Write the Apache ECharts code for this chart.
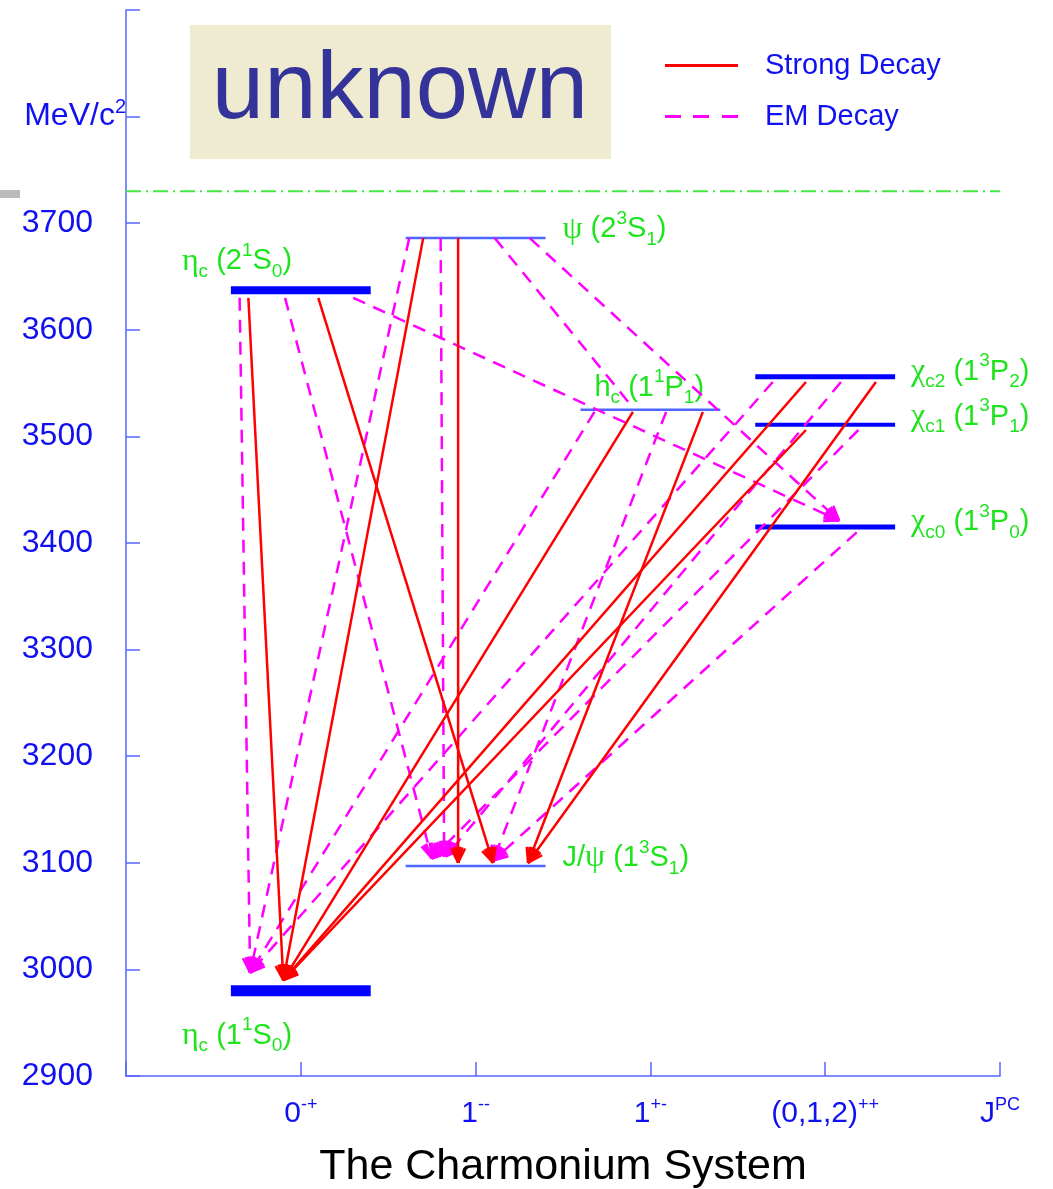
<!DOCTYPE html>
<html>
<head>
<meta charset="utf-8">
<title>The Charmonium System</title>
<script src="https://cdn.jsdelivr.net/npm/echarts@6/dist/echarts.min.js"></script>
<style>
  html, body { margin: 0; padding: 0; background: #ffffff; }
  #chart { width: 1053px; height: 1189px; }
</style>
</head>
<body>
<div id="chart"></div>
<script>
// ---- data -------------------------------------------------------------
// charmonium states: J^PC column (1..4) and mass in MeV/c^2
const levelKeys   = ['etac1S', 'jpsi', 'etac2S', 'psi2S', 'hc', 'chic0', 'chic1', 'chic2'];
const levelColumn = [1, 2, 1, 2, 3, 4, 4, 4];
const levelMass   = [2980, 3097, 3637, 3686, 3525, 3415, 3511, 3556];

// open-charm threshold, MeV/c^2
const thresholdMass = 3730;

// J^PC column labels (base, superscript)
const jpcBase = ['0', '1', '1', '(0,1,2)', 'J'];
const jpcSup  = ['-+', '--', '+-', '++', 'PC'];

// transitions: [column from, mass from, column to, mass to, arrowhead]
const strongDecays = [
  [0.70, 3630, 0.90, 2990, 1],
  [1.10, 3630, 2.10, 3100, 1],
  [1.70, 3686, 0.90, 2990, 1],
  [1.90, 3686, 1.90, 3100, 1],
  [2.90, 3523, 0.90, 2990, 1],
  [3.30, 3523, 2.30, 3100, 1],
  [3.89, 3551, 0.90, 2990, 1],
  [4.29, 3551, 2.30, 3100, 1],
  [3.89, 3506, 0.90, 2990, 1]
];
const emDecays = [
  [0.65, 3630, 0.71, 2997, 1],
  [0.91, 3630, 1.75, 3104, 1],
  [1.30, 3630, 4.08, 3421, 1],
  [1.62, 3686, 0.71, 2997, 1],
  [1.80, 3686, 1.82, 3106, 1],
  [2.11, 3686, 2.90, 3527, 0],
  [2.31, 3686, 4.08, 3421, 1],
  [2.68, 3523, 0.71, 2997, 1],
  [3.09, 3523, 2.10, 3102, 1],
  [3.70, 3551, 0.71, 2997, 1],
  [4.09, 3551, 1.83, 3106, 1],
  [4.19, 3506, 1.75, 3104, 1],
  [4.18, 3410, 2.10, 3102, 1]
];

// ---- styling ----------------------------------------------------------
const GREEN = '#1ee41e';
const AXIS_BLUE = '#5566ff';
const TEXT_BLUE = '#1010f0';

const levelStyle = {
  etac1S: { width: 11, color: '#0000ff' },
  jpsi:   { width: 2.5, color: '#4d66ff' },
  etac2S: { width: 8, color: '#0000ff' },
  psi2S:  { width: 2.5, color: '#4d66ff' },
  hc:     { width: 2.5, color: '#4d66ff' },
  chic0:  { width: 5, color: '#0000ff' },
  chic1:  { width: 4, color: '#0000ff' },
  chic2:  { width: 5, color: '#0000ff' }
};

// state names as rich text, and where they sit relative to the level bar
const levelName = {
  etac1S: '{g|η}{s|c}{b| (1}{p|1}{b|S}{s|0}{b|)}',
  jpsi:   '{b|J/}{g|ψ}{b| (1}{p|3}{b|S}{s|1}{b|)}',
  etac2S: '{g|η}{s|c}{b| (2}{p|1}{b|S}{s|0}{b|)}',
  psi2S:  '{g|ψ}{b| (2}{p|3}{b|S}{s|1}{b|)}',
  hc:     '{b|h}{s|c}{b| (1}{p|1}{b|P}{s|1}{b|)}',
  chic0:  '{g|χ}{s|c0}{b| (1}{p|3}{b|P}{s|0}{b|)}',
  chic1:  '{g|χ}{s|c1}{b| (1}{p|3}{b|P}{s|1}{b|)}',
  chic2:  '{g|χ}{s|c2}{b| (1}{p|3}{b|P}{s|2}{b|)}'
};
const labelPlace = {
  etac1S: { side: 'left',  dx: -49, dy: 45 },
  jpsi:   { side: 'right', dx: 17,  dy: -8 },
  etac2S: { side: 'left',  dx: -49, dy: -29 },
  psi2S:  { side: 'right', dx: 17,  dy: -9 },
  hc:     { side: 'left',  dx: 14,  dy: -22 },
  chic0:  { side: 'right', dx: 16,  dy: -5 },
  chic1:  { side: 'right', dx: 16,  dy: -8 },
  chic2:  { side: 'right', dx: 16,  dy: -5 }
};
const nameRich = {
  b: { fontFamily: 'Liberation Sans', fontSize: 29, fill: GREEN, lineHeight: 40 },
  g: { fontFamily: 'Liberation Serif', fontSize: 32, fill: GREEN, lineHeight: 40 },
  s: { fontFamily: 'Liberation Sans', fontSize: 19, fill: GREEN, lineHeight: 20, verticalAlign: 'bottom' },
  p: { fontFamily: 'Liberation Sans', fontSize: 19, fill: GREEN, lineHeight: 22, verticalAlign: 'top' }
};

const HALF_WIDTH = 0.4; // half length of a level bar, in column units

// ---- renderers --------------------------------------------------------
function renderLevel(params, api) {
  const key = levelKeys[api.value(2)];
  const st = levelStyle[key];
  const a = api.coord([api.value(0) - HALF_WIDTH, api.value(1)]);
  const b = api.coord([api.value(0) + HALF_WIDTH, api.value(1)]);
  const pl = labelPlace[key];
  const anchorX = pl.side === 'left' ? a[0] : b[0];
  return {
    type: 'group',
    children: [
      { type: 'line', shape: { x1: a[0], y1: a[1], x2: b[0], y2: b[1] },
        style: { stroke: st.color, lineWidth: st.width } },
      { type: 'text', x: anchorX + pl.dx, y: a[1] + pl.dy,
        style: { text: levelName[key], rich: nameRich, fill: GREEN, align: 'left', verticalAlign: 'middle' } }
    ]
  };
}

function decayRenderer(color, dash) {
  return function (params, api) {
    const a = api.coord([api.value(0), api.value(1)]);
    const b = api.coord([api.value(2), api.value(3)]);
    const kids = [{
      type: 'line',
      shape: { x1: a[0], y1: a[1], x2: b[0], y2: b[1] },
      style: { stroke: color, lineWidth: 2.5, lineDash: dash }
    }];
    if (api.value(4)) {
      const dx = b[0] - a[0], dy = b[1] - a[1];
      const len = Math.hypot(dx, dy);
      const ux = dx / len, uy = dy / len;
      const L = 16;
      [-26, -16, -7, 7, 16, 26].forEach(function (deg) {
        const r = deg * Math.PI / 180;
        const vx = -(ux * Math.cos(r) - uy * Math.sin(r));
        const vy = -(ux * Math.sin(r) + uy * Math.cos(r));
        kids.push({
          type: 'line',
          shape: { x1: b[0], y1: b[1], x2: b[0] + vx * L, y2: b[1] + vy * L },
          style: { stroke: color, lineWidth: 2.4 }
        });
      });
    }
    return { type: 'group', children: kids };
  };
}

const levelData = levelKeys.map(function (k, i) { return [levelColumn[i], levelMass[i], i]; });

// ---- chart ------------------------------------------------------------
const chart = echarts.init(document.getElementById('chart'), null, { renderer: 'canvas' });

chart.setOption({
  animation: false,
  backgroundColor: '#ffffff',
  grid: { left: 126, right: 53, top: 10, bottom: 113, containLabel: false, outerBoundsMode: 'none' },
  legend: {
    orient: 'vertical',
    left: 660, top: 46,
    itemGap: 22,
    itemWidth: 73, itemHeight: 3,
    textStyle: { fontFamily: 'Liberation Sans', fontSize: 29, color: TEXT_BLUE, padding: [0, 0, 0, 22] },
    data: [
      { name: 'Strong Decay', icon: 'path://M0,0h73v3h-73z' },
      { name: 'EM Decay', icon: 'path://M0,0h16v3h-16z M28,0h16v3h-16z M57,0h16v3h-16z' }
    ]
  },
  xAxis: {
    type: 'value', min: 0, max: 5, interval: 1,
    name: 'The Charmonium System',
    nameLocation: 'middle', nameGap: 70,
    nameTextStyle: { fontFamily: 'Liberation Sans', fontSize: 43, color: '#000000', verticalAlign: 'top' },
    axisLine: { show: true, lineStyle: { color: AXIS_BLUE, width: 1.5 } },
    axisTick: { show: true, inside: true, length: 14, lineStyle: { color: AXIS_BLUE, width: 1.5 } },
    splitLine: { show: false },
    axisLabel: {
      margin: 20,
      formatter: function (v) {
        const i = Math.round(v) - 1;
        if (i < 0) return '';
        return '{m|' + jpcBase[i] + '}{u|' + jpcSup[i] + '}';
      },
      rich: {
        m: { fontFamily: 'Liberation Sans', fontSize: 30, color: TEXT_BLUE, lineHeight: 36 },
        u: { fontFamily: 'Liberation Sans', fontSize: 18, color: TEXT_BLUE, lineHeight: 22, verticalAlign: 'top' }
      }
    }
  },
  yAxis: [{
    type: 'value', min: 2900, max: 3900, interval: 100,
    axisLine: { show: true, lineStyle: { color: AXIS_BLUE, width: 1.5 } },
    axisTick: { show: true, inside: true, length: 14, lineStyle: { color: AXIS_BLUE, width: 1.5 } },
    splitLine: { show: false },
    axisLabel: {
      margin: 33,
      fontFamily: 'Liberation Sans', fontSize: 32, color: TEXT_BLUE,
      formatter: function (v) { return v >= 3800 ? '' : String(v); }
    }
  }, {
    type: 'value', min: 2900, max: 3900, interval: 100, position: 'left',
    axisLine: { show: false }, axisTick: { show: false }, splitLine: { show: false },
    axisLabel: {
      margin: 0,
      formatter: function (v) { return v === 3800 ? '{t|MeV/c}{q|2}' : ''; },
      rich: {
        t: { fontFamily: 'Liberation Sans', fontSize: 32, color: TEXT_BLUE, lineHeight: 38 },
        q: { fontFamily: 'Liberation Sans', fontSize: 20, color: TEXT_BLUE, lineHeight: 24, verticalAlign: 'top' }
      }
    }
  }],
  graphic: [
    { type: 'rect', left: 190, top: 25, shape: { width: 421, height: 134 }, style: { fill: '#eeebd0' }, z: 0 },
    { type: 'text', x: 400, y: 92,
      style: { text: 'unknown', fontFamily: 'Liberation Sans', fontSize: 94, fill: '#333399', align: 'center', verticalAlign: 'middle' } },
    { type: 'rect', left: 0, top: 190, shape: { width: 20, height: 8 }, style: { fill: '#bbbbbb' } }
  ],
  series: [
    {
      name: 'threshold', type: 'line', silent: true, symbol: 'none',
      data: [[0, thresholdMass], [5, thresholdMass]],
      lineStyle: { color: '#44e844', width: 2, type: [15, 5, 2, 5] }
    },
    {
      name: 'levels', type: 'custom', renderItem: renderLevel,
      data: levelData, encode: { x: 0, y: 1 }, z: 3
    },
    {
      name: 'EM Decay', type: 'custom', renderItem: decayRenderer('#ff00ff', [13, 9]),
      itemStyle: { color: '#ff00ff' },
      data: emDecays, encode: { x: [0, 2], y: [1, 3] }, z: 4
    },
    {
      name: 'Strong Decay', type: 'custom', renderItem: decayRenderer('#ff0000', null),
      itemStyle: { color: '#ff0000' },
      data: strongDecays, encode: { x: [0, 2], y: [1, 3] }, z: 5
    }
  ]
});
</script>
</body>
</html>
